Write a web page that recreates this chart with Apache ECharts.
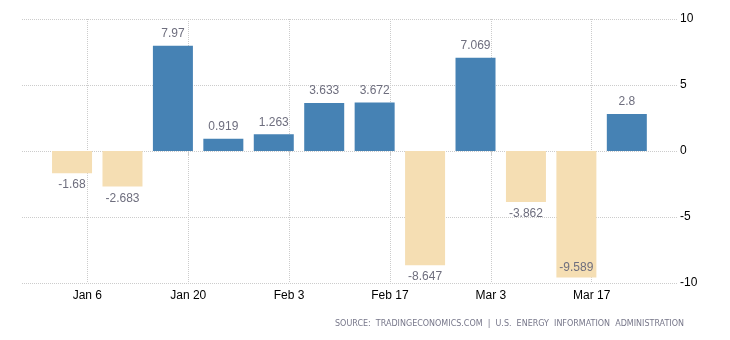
<!DOCTYPE html>
<html>
<head>
<meta charset="utf-8">
<script src="https://cdn.jsdelivr.net/npm/echarts@6/dist/echarts.min.js"></script>
<style>
html,body{margin:0;padding:0;background:#fff;}
#chart{width:730px;height:340px;}
</style>
</head>
<body>
<div id="chart"></div>
<script>
// ---- data ----
var weekDates = ['2020-01-03','2020-01-10','2020-01-17','2020-01-24','2020-01-31','2020-02-07',
                 '2020-02-14','2020-02-21','2020-02-28','2020-03-06','2020-03-13','2020-03-20'];
var changes = [-1.68, -2.683, 7.97, 0.919, 1.263, 3.633, 3.672, -8.647, 7.069, -3.862, -9.589, 2.8];
var tickDates = ['2020-01-06','2020-01-20','2020-02-03','2020-02-17','2020-03-02','2020-03-16'];
var tickLabels = ['Jan 6','Jan 20','Feb 3','Feb 17','Mar 3','Mar 17'];
var yTicks = [-10, -5, 0, 5, 10];
var sourceText = 'SOURCE:  TRADINGECONOMICS.COM  |  U.S.  ENERGY  INFORMATION  ADMINISTRATION';

// ---- helpers ----
var DAY = 86400000;
var base = Date.parse(tickDates[0]);
function dayOf(s){ return (Date.parse(s) - base) / DAY; }
var barShift = 0.875; // placement of weekly bars relative to date ticks
var tickVals = tickDates.map(dayOf);
var labelMap = {};
tickVals.forEach(function(v,i){ labelMap[v] = tickLabels[i]; });
var yMin = yTicks[0], yMax = yTicks[yTicks.length-1];

var barData = weekDates.map(function(d,i){
  var v = changes[i];
  var lbl;
  if (v >= 0) lbl = { position: 'top', distance: 6 };
  else if (v - 1 < yMin) lbl = { position: 'insideBottom', distance: 4 }; // no room below: keep inside
  else lbl = { position: 'bottom', distance: 6 };
  return {
    value: [dayOf(d) + barShift, v],
    itemStyle: { color: v >= 0 ? '#4682B4' : '#F5DEB3' },
    label: lbl
  };
});

var chart = echarts.init(document.getElementById('chart'));
chart.setOption({
  animation: false,
  grid: { left: 22, right: 53, top: 19, bottom: 57 },
  xAxis: {
    type: 'value',
    min: -9.07, max: 81.84,
    interval: 14,
    axisLine: { show: false },
    axisTick: { show: true, customValues: tickVals, length: 4, lineStyle: { color: '#cccccc' } },
    axisLabel: {
      customValues: tickVals,
      color: '#000', fontSize: 12, fontFamily: 'Liberation Sans', margin: 7,
      formatter: function(v){ return labelMap[v] || ''; }
    },
    splitLine: { show: true,
      lineStyle: { color: '#cccccc', type: [1, 1], width: 1 } }
  },
  yAxis: {
    type: 'value',
    position: 'right',
    min: yMin, max: yMax, interval: 5,
    axisLine: { show: false },
    axisTick: { show: false },
    axisLabel: { color: '#000', fontSize: 12, fontFamily: 'Liberation Sans', margin: 3 },
    splitLine: { show: true, lineStyle: { color: '#cccccc', type: [1, 1], width: 1 } }
  },
  series: [{
    type: 'bar',
    barWidth: 40,
    data: barData,
    label: {
      show: true,
      color: '#6e6e7e',
      fontSize: 12,
      fontFamily: 'Liberation Sans',
      formatter: function(p){ return String(p.value[1]); }
    }
  }],
  graphic: [{
    type: 'text',
    right: 46,
    top: 320,
    style: { text: sourceText, fill: '#77778a', fontSize: 8, fontFamily: 'DejaVu Sans' }
  }]
});
</script>
</body>
</html>
